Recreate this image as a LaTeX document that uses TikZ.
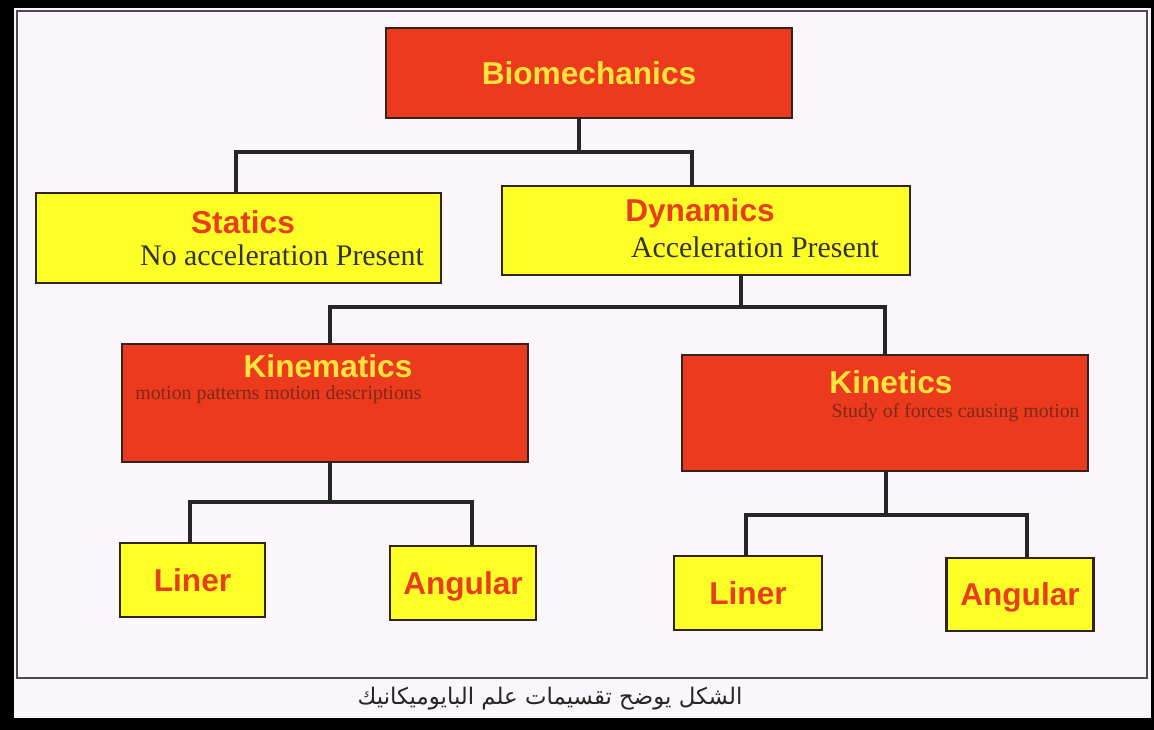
\documentclass[tikz,border=0pt]{standalone}
\usepackage{fontspec}
\setmainfont{Liberation Serif}
\setsansfont{Liberation Sans}
\newfontfamily\arabicfont[Script=Arabic]{DejaVu Sans}
\TeXXeTstate=1
\usepackage{xcolor}
\usetikzlibrary{positioning, calc}
\definecolor{boxred}{RGB}{236,58,30}
\definecolor{boxyellow}{RGB}{255,255,40}
\definecolor{titlered}{RGB}{232,62,30}
\definecolor{titleyellow}{RGB}{255,228,60}
\definecolor{subbrown}{RGB}{125,42,22}
\definecolor{paper}{RGB}{251,246,251}
\definecolor{edge}{RGB}{48,36,28}

\begin{document}
\begin{tikzpicture}[x=0.02cm,y=-0.02cm,
    box/.style={draw=edge,line width=1.5pt,inner sep=0pt},
    redbox/.style={box,fill=boxred,text=titleyellow},
    yellowbox/.style={box,fill=boxyellow,text=titlered},
    title/.style={font=\sffamily\bfseries\fontsize{18}{20}\selectfont},
    note/.style={font=\fontsize{17}{19}\selectfont,text=black!80},
    small/.style={font=\fontsize{11.3}{13}\selectfont,text=subbrown},
    link/.style={line width=2.6pt,draw=black!85,line join=miter}]
      \useasboundingbox (0,0) rectangle (1154,730);
      \fill[black] (0,0) rectangle (1154,730);%外枠
      \fill[paper] (14,8) rectangle (1151,718);
      \draw[draw=black!70,line width=1.6pt] (17,11) rectangle (1147,678);%内枠
      % boxes
      \node[redbox,title,minimum width=8.12cm,minimum height=1.8cm] (bio) at (589,73) {Biomechanics};
      \node[yellowbox,minimum width=8.1cm,minimum height=1.8cm] (stat) at (238.5,238) {};
      \node[yellowbox,minimum width=8.16cm,minimum height=1.78cm] (dyn) at (706,230.5) {};
      \node[redbox,minimum width=8.12cm,minimum height=2.36cm] (kinm) at (325,403) {};
      \node[redbox,minimum width=8.12cm,minimum height=2.32cm] (kint) at (885,413) {};
      \node[yellowbox,title,minimum width=2.9cm,minimum height=1.48cm] (linL) at (192.5,580) {Liner};
      \node[yellowbox,title,text depth=0pt,minimum width=2.92cm,minimum height=1.48cm] (angL) at (463,583) {Angular};
      \node[yellowbox,title,minimum width=2.96cm,minimum height=1.48cm] (linR) at (748,593) {Liner};
      \node[yellowbox,title,text depth=0pt,minimum width=2.94cm,minimum height=1.46cm] (angR) at (1020,594.5) {Angular};
      % texts
      \node[title,text=titlered] (statT) at (243,222) {Statics};
      \node[note] (statS) at (282,255) {No acceleration Present};
      \node[title,text=titlered] (dynT) at (700,213) {Dynamics};
      \node[note] (dynS) at (755,247) {Acceleration Present};
      \node[title,text=titleyellow] (kinmT) at (328,366) {Kinematics};
      \node[small,anchor=west,inner sep=0pt] (kinmS) at (135,395) {motion patterns motion descriptions};
      \node[title,text=titleyellow] (kintT) at (891,382) {Kinetics};
      \node[small,anchor=east,inner sep=0pt] (kintS) at (1080,413) {Study of forces causing motion};
      % links
      \coordinate (j1) at (579,152);
      \coordinate (j1l) at (236,152);
      \coordinate (j1r) at (692,152);
      \draw[link] (bio.south -| j1) -- (j1);
      \draw[link] (stat.north -| j1l) -- (j1l) -- (j1r) -- (dyn.north -| j1r);
      \coordinate (j2) at (741,307);
      \coordinate (j2l) at (330,307);
      \coordinate (j2r) at (885,307);
      \draw[link] (dyn.south -| j2) -- (j2);
      \draw[link] (kinm.north -| j2l) -- (j2l) -- (j2r) -- (kint.north -| j2r);
      \coordinate (j3) at (330,502);
      \coordinate (j3l) at (190,502);
      \coordinate (j3r) at (472,502);
      \draw[link] (kinm.south -| j3) -- (j3);
      \draw[link] (linL.north -| j3l) -- (j3l) -- (j3r) -- (angL.north -| j3r);
      \coordinate (j4) at (886,515);
      \coordinate (j4l) at (746,515);
      \coordinate (j4r) at (1027,515);
      \draw[link] (kint.south -| j4) -- (j4);
      \draw[link] (linR.north -| j4l) -- (j4l) -- (j4r) -- (angR.north -| j4r);
      \node[font=\arabicfont\fontsize{13}{15}\selectfont,text=black!85] (cap) at (550,699) {\beginR الشكل يوضح تقسيمات علم البايوميكانيك\endR};%図の説明
\end{tikzpicture}
\end{document}
